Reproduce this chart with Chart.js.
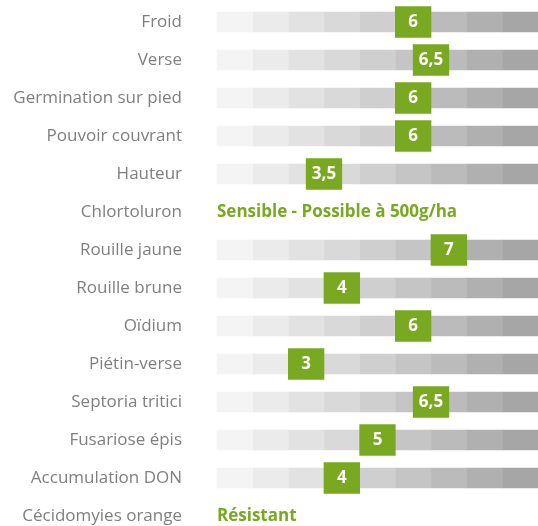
<!DOCTYPE html>
<html>
<head>
<meta charset="utf-8">
<script src="https://cdn.jsdelivr.net/npm/chart.js@4"></script>
<style>
    html, body { margin: 0; padding: 0; background: #fff; overflow: hidden; }
    .chart-box { width: 538px; height: 536px; }
</style>
</head>
<body>
<div class="chart-box">
    <canvas id="noteChart"></canvas>
</div>

<script>
    const categories = ['Froid', 'Verse', 'Germination sur pied', 'Pouvoir couvrant', 'Hauteur', 'Chlortoluron',
        'Rouille jaune', 'Rouille brune', 'Oïdium', 'Piétin-verse', 'Septoria tritici', 'Fusariose épis',
        'Accumulation DON', 'Cécidomyies orange'];
    const notes = [6, 6.5, 6, 6, 3.5, null, 7, 4, 6, 3, 6.5, 5, 4, null];
    const textNotes = [null, null, null, null, null, 'Sensible - Possible à 500g/ha', null, null, null, null, null, null, null, 'Résistant'];
    const scaleSteps = 9;
    const stepColors = ['#f4f4f4', '#ebebeb', '#e2e2e2', '#d9d9d9', '#cfcfcf', '#c5c5c5', '#bbbbbb', '#b0b0b0', '#a6a6a6'];

    const green = '#79a821';

    const trackDatasets = stepColors.map((color, i) => ({
        label: 'step' + (i + 1),
        data: notes.map((v, r) => textNotes[r] ? null : [i, i + 1]),
        backgroundColor: color,
        barThickness: 20,
        grouped: false,
        order: 2,
        clip: false
    }));

    const markerDataset = {
        label: 'note',
        data: notes.map(v => v === null ? null : [v - 1, v]),
        backgroundColor: green,
        barThickness: 31,
        grouped: false,
        order: 0,
        clip: false
    };

    const labelPlugin = {
        id: 'noteLabels',
        afterDatasetsDraw(chart) {
            const ctx = chart.ctx;
            const meta = chart.getDatasetMeta(chart.data.datasets.length - 1);
            ctx.save();
            ctx.textBaseline = 'middle';
            ctx.textAlign = 'center';
            ctx.fillStyle = '#ffffff';
            ctx.font = 'bold 17px "Open Sans"';
            meta.data.forEach((bar, i) => {
                if (notes[i] === null) return;
                const cx = (bar.x + bar.base) / 2;
                ctx.fillText(String(notes[i]).replace('.', ','), cx, bar.y);
            });
            ctx.textAlign = 'left';
            ctx.fillStyle = green;
            textNotes.forEach((t, i) => {
                if (!t) return;
                ctx.fillText(t, chart.scales.x.getPixelForValue(0), chart.scales.y.getPixelForValue(i));
            });
            ctx.restore();
        }
    };

    new Chart(document.getElementById('noteChart'), {
        type: 'bar',
        data: {
            labels: categories,
            datasets: [...trackDatasets, markerDataset]
        },
        options: {
            indexAxis: 'y',
            responsive: true,
            maintainAspectRatio: false,
            animation: false,
            layout: {
                padding: { top: 3, bottom: 1, left: 0, right: 0 }
            },
            scales: {
                x: {
                    display: false,
                    min: 0,
                    max: scaleSteps
                },
                y: {
                    grid: { display: false, drawTicks: true, tickLength: 35 },
                    border: { display: false },
                    ticks: {
                        color: '#7f7f7f',
                        padding: 0,
                        font: { family: '"Open Sans"', size: 17 }
                    },
                    afterFit(scale) {
                        scale.width = 217;
                        scale.paddingTop = 0;
                        scale.paddingBottom = 0;
                    }
                }
            },
            plugins: {
                legend: { display: false },
                tooltip: { enabled: false }
            }
        },
        plugins: [labelPlugin]
    });
</script>
</body>
</html>
